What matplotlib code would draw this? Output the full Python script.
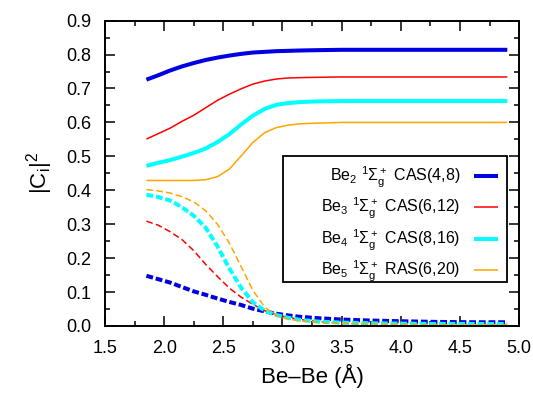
import numpy as np
import matplotlib
matplotlib.use("Agg")
import matplotlib.pyplot as plt
from matplotlib.patches import Rectangle
from matplotlib.ticker import MultipleLocator, FormatStrFormatter

plt.rcParams['font.family'] = ['Liberation Sans', 'DejaVu Sans']
plt.rcParams['mathtext.default'] = 'regular'

# Be-Be distance (Angstrom)
r = [1.85, 1.95, 2.05, 2.15, 2.25, 2.35, 2.45, 2.55, 2.65, 2.75, 2.85,
     2.95, 3.05, 3.15, 3.3, 3.5, 3.75, 4.0, 4.3, 4.6, 4.9]

# weight of the leading configuration (solid)
be2_ref = [0.726, 0.739, 0.753, 0.765, 0.775, 0.784, 0.791, 0.797, 0.802, 0.806, 0.808,
           0.810, 0.811, 0.812, 0.813, 0.814, 0.814, 0.814, 0.814, 0.814, 0.814]
be3_ref = [0.551, 0.567, 0.583, 0.603, 0.621, 0.643, 0.665, 0.683, 0.699, 0.713, 0.722,
           0.728, 0.731, 0.732, 0.733, 0.734, 0.734, 0.734, 0.734, 0.734, 0.734]
be4_ref = [0.472, 0.481, 0.489, 0.499, 0.510, 0.523, 0.542, 0.565, 0.594, 0.620, 0.640,
           0.652, 0.657, 0.660, 0.662, 0.663, 0.663, 0.663, 0.663, 0.663, 0.663]
be5_ref = [0.429, 0.429, 0.429, 0.429, 0.429, 0.431, 0.440, 0.462, 0.501, 0.541, 0.570,
           0.585, 0.592, 0.596, 0.598, 0.600, 0.600, 0.600, 0.600, 0.600, 0.600]

# weight of the second configuration (dashed)
be2_exc = [0.148, 0.138, 0.128, 0.115, 0.102, 0.092, 0.081, 0.071, 0.062, 0.051, 0.043,
           0.036, 0.031, 0.027, 0.023, 0.019, 0.016, 0.014, 0.012, 0.011, 0.011]
be3_exc = [0.309, 0.297, 0.278, 0.255, 0.222, 0.182, 0.146, 0.112, 0.085, 0.064, 0.045,
           0.033, 0.025, 0.019, 0.013, 0.008, 0.005, 0.004, 0.003, 0.003, 0.003]
be4_exc = [0.387, 0.380, 0.370, 0.350, 0.325, 0.290, 0.235, 0.170, 0.113, 0.070, 0.045,
           0.032, 0.024, 0.018, 0.013, 0.010, 0.008, 0.007, 0.006, 0.006, 0.006]
be5_exc = [0.402, 0.398, 0.392, 0.381, 0.366, 0.340, 0.300, 0.245, 0.175, 0.105, 0.055,
           0.030, 0.020, 0.015, 0.011, 0.008, 0.006, 0.005, 0.004, 0.004, 0.004]

labels = [r'Be$_2$ $^1\Sigma_g^+$ CAS(4,8)',
          r'Be$_3$ $^1\Sigma_g^+$ CAS(6,12)',
          r'Be$_4$ $^1\Sigma_g^+$ CAS(8,16)',
          r'Be$_5$ $^1\Sigma_g^+$ RAS(6,20)']
colors = ['#0000e0', '#ff0000', '#00ffff', '#ffa500']
widths = [2.9, 1.1, 2.9, 1.1]

fig = plt.figure(figsize=(5.33, 3.93), dpi=100)
ax = fig.add_axes([0.197, 0.1705, 0.777, 0.777])

for ref, exc, lab, c, lw in zip([be2_ref, be3_ref, be4_ref, be5_ref],
                                [be2_exc, be3_exc, be4_exc, be5_exc],
                                labels, colors, widths):
    dash = (0, (1.7, 0.7)) if lw > 2 else (0, (4.3, 2.2))
    ax.plot(r, ref, color=c, lw=lw, label=lab, solid_capstyle='butt')
    ax.plot(r, exc, color=c, lw=lw, ls=dash, dash_capstyle='butt')

ax.set_xlim(1.5, 5.0)
ax.set_ylim(0.0, 0.9)
ax.xaxis.set_major_locator(MultipleLocator(0.5))
ax.xaxis.set_minor_locator(MultipleLocator(0.25))
ax.yaxis.set_major_locator(MultipleLocator(0.1))
ax.yaxis.set_minor_locator(MultipleLocator(0.05))
ax.xaxis.set_major_formatter(FormatStrFormatter('%.1f'))
ax.yaxis.set_major_formatter(FormatStrFormatter('%.1f'))
ax.tick_params(which='both', direction='in', top=True, right=True, labelsize=13, width=1.1)
ax.tick_params(which='major', length=7, pad=10)
ax.tick_params(which='minor', length=3.6)
for s in ax.spines.values():
    s.set_linewidth(1.4)

ax.set_xlabel('Be\u2013Be (\u00c5)', fontsize=16, labelpad=5)
ax.set_ylabel(r'|C$_i$|$^2$', fontsize=16, labelpad=8)

# key box drawn separately so it can be wider than the entries
ax.add_patch(Rectangle((0.430, 0.144), 0.541, 0.413, transform=ax.transAxes,
                       facecolor='white', edgecolor='black', lw=1.3, zorder=4))
leg = ax.legend(loc='upper right', bbox_to_anchor=(0.971, 0.557), borderaxespad=0,
                markerfirst=False, fontsize=11.5, frameon=False,
                handlelength=1.5, handletextpad=0.9,
                borderpad=0.55, labelspacing=0.4)
leg.set_zorder(5)
for t in leg.get_texts():
    t.set_ha('right')

fig.savefig('out.png', dpi=100)
